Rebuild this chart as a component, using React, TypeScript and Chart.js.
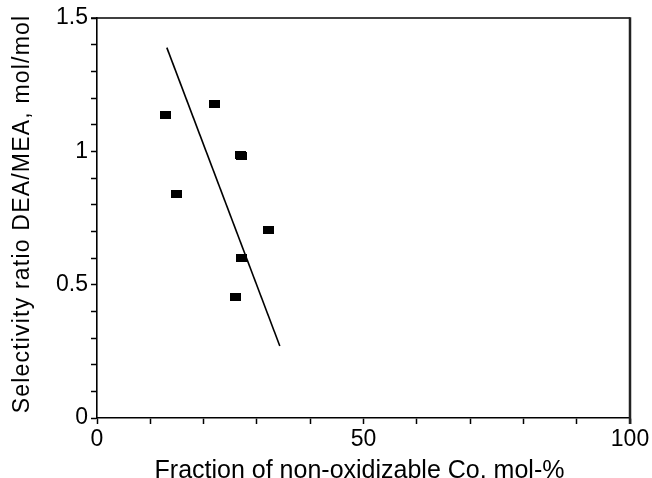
import { useEffect, useRef } from 'react';
import { Chart, registerables } from 'chart.js';

Chart.register(...registerables);

// Measured catalyst samples
const nonOxidizableCo = [12.8, 22.0, 27.0, 27.1, 15.0, 32.1, 27.1, 26.0];
const selectivityRatio = [1.137, 1.176, 0.987, 0.981, 0.839, 0.706, 0.601, 0.4525];

// Straight-line trend through the samples (end points)
const trendX = [13.1, 34.3];
const trendY = [1.389, 0.27];

// Labelled tick values
const xTickLabels = [0, 50, 100];
const yTickLabels = [0, 0.5, 1, 1.5];

const xTitle = 'Fraction of non-oxidizable Co, mol-%';
const yTitle = 'Selectivity ratio DEA/MEA, mol/mol';

const FONT = '"Liberation Sans", Arial, Helvetica, sans-serif';

function makeMarker(): HTMLCanvasElement {
  const c = document.createElement('canvas');
  c.width = 11;
  c.height = 8;
  const g = c.getContext('2d')!;
  g.fillStyle = '#000';
  g.fillRect(0, 0, 11, 8);
  return c;
}

// Closes the frame (top and right edges) and writes the axis titles
const framePlugin = {
  id: 'frameAndTitles',
  afterDraw(chart: any) {
    const { ctx, chartArea: a } = chart;
    ctx.save();
    ctx.strokeStyle = '#000';
    ctx.lineWidth = 1.5;
    ctx.beginPath();
    ctx.moveTo(a.left - 6, a.top);
    ctx.lineTo(a.right, a.top);
    ctx.stroke();
    ctx.strokeStyle = '#222';
    ctx.lineWidth = 2.5;
    ctx.beginPath();
    ctx.moveTo(a.right, a.top - 0.75);
    ctx.lineTo(a.right, a.bottom + 6);
    ctx.stroke();

    ctx.fillStyle = '#000';
    ctx.textBaseline = 'alphabetic';
    ctx.textAlign = 'center';
    ctx.font = `25px ${FONT}`;
    ctx.fillText(xTitle, (a.left + a.right) / 2 - 4, 478);

    ctx.translate(29, (a.top + a.bottom) / 2 - 4);
    ctx.rotate(-Math.PI / 2);
    ctx.font = `23px ${FONT}`;
    (ctx as any).letterSpacing = '1.2px';
    ctx.fillText(yTitle, 0, 0);
    ctx.restore();
  },
};

export default function App() {
  const ref = useRef<HTMLCanvasElement | null>(null);

  useEffect(() => {
    if (!ref.current) return;
    const marker = makeMarker();
    const samples = nonOxidizableCo.map((x, i) => ({ x, y: selectivityRatio[i] }));
    const trend = trendX.map((x, i) => ({ x, y: trendY[i] }));

    const chart = new Chart(ref.current, {
      type: 'scatter',
      data: {
        datasets: [
          {
            data: trend,
            showLine: true,
            borderColor: '#000',
            borderWidth: 1.6,
            pointRadius: 0,
          },
          {
            data: samples,
            pointStyle: marker as any,
            pointRadius: 5,
            backgroundColor: '#000',
            borderColor: '#000',
          },
        ],
      },
      options: {
        animation: false,
        responsive: false,
        events: [],
        layout: { padding: { left: 0, top: 18, right: 22, bottom: 0 } },
        plugins: { legend: { display: false }, tooltip: { enabled: false } },
        scales: {
          x: {
            type: 'linear',
            min: 0,
            max: 100,
            afterFit: (s: any) => {
              s.height = 60;
            },
            ticks: {
              stepSize: 10,
              maxTicksLimit: 100,
              autoSkip: false,
              maxRotation: 0,
              color: '#000',
              padding: 2,
              font: { family: FONT, size: 23 },
              callback: (v: any) => (xTickLabels.includes(Number(v)) ? String(v) : ''),
            },
            grid: { drawOnChartArea: false, tickLength: 6, tickColor: '#000', tickWidth: 1.5 },
            border: { color: '#000', width: 1.6 },
          },
          y: {
            type: 'linear',
            min: 0,
            max: 1.5,
            afterFit: (s: any) => {
              s.width = 97;
            },
            ticks: {
              stepSize: 0.1,
              maxTicksLimit: 100,
              autoSkip: false,
              color: '#000',
              padding: 3,
              font: { family: FONT, size: 23 },
              callback: (v: any) => {
                const hit = yTickLabels.find((t) => Math.abs(t - Number(v)) < 1e-6);
                return hit === undefined ? '' : String(hit);
              },
            },
            grid: { drawOnChartArea: false, tickLength: 6, tickColor: '#000', tickWidth: 1.5 },
            border: { color: '#000', width: 1.6 },
          },
        },
      },
      plugins: [framePlugin],
    });
    return () => chart.destroy();
  }, []);

  return (
    <div style={{ position: 'fixed', left: 0, top: 0, width: 652, height: 478, background: '#fff' }}>
      <canvas ref={ref} width={652} height={478} style={{ display: 'block' }} />
    </div>
  );
}
